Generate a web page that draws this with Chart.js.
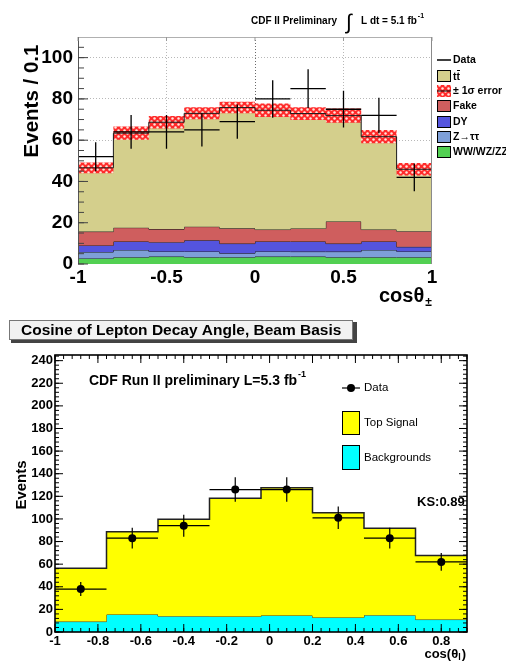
<!DOCTYPE html>
<html>
<head>
<meta charset="utf-8">
<script src="https://cdn.jsdelivr.net/npm/chart.js@4.4.1/dist/chart.umd.min.js"></script>
<style>
  html, body { margin: 0; padding: 0; background: #fff; }
  #wrap { position: relative; width: 506px; height: 662px; overflow: hidden; background: #fff; }
  #wrap canvas { position: absolute; left: 0; }
  #c1 { top: 0; }
  #c2 { top: 310px; }
</style>
</head>
<body>
<div id="wrap">
  <canvas id="c1" width="506" height="310"></canvas>
  <canvas id="c2" width="506" height="352"></canvas>
</div>
<script>
// ---------- Upper panel: cos(theta+) in dilepton events, CDF II, 5.1 fb^-1 ----------
const topEdges   = [-1, -0.8, -0.6, -0.4, -0.2, 0, 0.2, 0.4, 0.6, 0.8, 1];
const topXTicks  = [-1, -0.5, 0, 0.5, 1];
const topYTicks  = [0, 20, 40, 60, 80, 100];
const dibosonYield  = [2.7, 3.3, 3.6, 3.3, 3.3, 3.6, 3.6, 3.3, 3.3, 3.3];
const ztautauYield  = [3.1, 3.5, 2.5, 2.8, 1.9, 2.5, 2.4, 2.7, 3.5, 2.8];
const drellYanYield = [3.2, 4.1, 4.5, 5.4, 4.7, 4.8, 4.9, 3.9, 4.1, 2.2];
const fakeYield     = [6.7, 6.7, 6.3, 6.6, 7.4, 5.8, 6.3, 10.7, 5.8, 7.6];
const ttbarYield    = [30.9, 45.8, 51.8, 54.9, 58.5, 57.8, 55.7, 51.3, 45.0, 30.0];
const predError     = [2.6, 3.2, 3.0, 2.9, 2.8, 3.3, 3.1, 3.5, 3.2, 3.0];
const topData       = [52, 64, 64, 65, 69, 80, 85, 75, 72, 42];
const topDataErr    = [7.0, 8.2, 8.2, 8.1, 8.3, 9.1, 9.4, 8.9, 8.6, 6.7];

// ---------- Lower panel: cosine of lepton decay angle, beam basis, 5.3 fb^-1 ----------
const botEdges   = [-1, -0.76, -0.52, -0.28, -0.04, 0.2, 0.44, 0.68, 0.92];
const botXTicks  = [-1, -0.8, -0.6, -0.4, -0.2, 0, 0.2, 0.4, 0.6, 0.8];
const botYTicks  = [0, 20, 40, 60, 80, 100, 120, 140, 160, 180, 200, 220, 240];
const backgroundYield = [9.2, 15.5, 14.0, 13.7, 14.6, 12.8, 14.9, 11.0];
const signalYield     = [47.1, 73.2, 85.8, 104.5, 112.9, 92.6, 76.8, 56.6];
const botData         = [38, 83, 94, 126, 126, 101, 83, 62];
const botDataErr      = [6.2, 9.1, 9.7, 10.8, 10.8, 10.0, 9.1, 7.9];

const FONT = "'Liberation Sans', Arial, Helvetica, sans-serif";
const font = (size, weight) => `${weight || 'normal'} ${size}px ${FONT}`;
Chart.defaults.font.family = FONT;

// histogram helpers: one point per bin edge, the value holds until the next edge
function stepPoints(edges, vals) {
  return edges.map((x, i) => ({ x, y: vals[Math.min(i, vals.length - 1)] }));
}
function stackUp(layers) {
  let run = layers[0].map(() => 0);
  return layers.map(l => (run = run.map((v, i) => v + l[i])));
}
function fixedTicks(values) {
  return scale => { scale.ticks = values.map(v => ({ value: v })); };
}
function drawCrosses(chart, edges, vals, errs, lw) {
  const { ctx, scales: { x, y } } = chart;
  ctx.save();
  ctx.strokeStyle = '#000';
  ctx.lineWidth = lw;
  vals.forEach((v, i) => {
    const x0 = x.getPixelForValue(edges[i]);
    const x1 = x.getPixelForValue(edges[i + 1]);
    const xc = x.getPixelForValue((edges[i] + edges[i + 1]) / 2);
    const yc = y.getPixelForValue(v);
    ctx.beginPath();
    ctx.moveTo(x0, yc); ctx.lineTo(x1, yc);
    ctx.moveTo(xc, y.getPixelForValue(v - errs[i]));
    ctx.lineTo(xc, y.getPixelForValue(v + errs[i]));
    ctx.stroke();
  });
  ctx.restore();
}
function tickMarks(ctx, scale, values, len, side, area) {
  ctx.beginPath();
  values.forEach(v => {
    const p = scale.getPixelForValue(v);
    if (side === 'left')   { ctx.moveTo(area.left, p);   ctx.lineTo(area.left + len, p); }
    if (side === 'right')  { ctx.moveTo(area.right, p);  ctx.lineTo(area.right - len, p); }
    if (side === 'bottom') { ctx.moveTo(p, area.bottom); ctx.lineTo(p, area.bottom - len); }
    if (side === 'top')    { ctx.moveTo(p, area.top);    ctx.lineTo(p, area.top + len); }
  });
  ctx.stroke();
}
function steps(from, to, step) {
  const out = [];
  for (let k = 0; from + k * step <= to + 1e-9; k++) out.push(+(from + k * step).toFixed(4));
  return out;
}

// red/white checkered fill for the prediction uncertainty
function bandPattern() {
  const c = document.createElement('canvas');
  c.width = 6; c.height = 6;
  const g = c.getContext('2d');
  g.fillStyle = '#ff2a2a';
  g.fillRect(0, 0, 6, 6);
  g.fillStyle = '#ffe6dc';
  [[1.5, 1.5], [4.5, 4.5]].forEach(([px, py]) => {
    g.beginPath(); g.arc(px, py, 1.25, 0, Math.PI * 2); g.fill();
  });
  return g.createPattern(c, 'repeat');
}

// ================= upper chart =================
const topStack = stackUp([dibosonYield, ztautauYield, drellYanYield, fakeYield, ttbarYield]);
const topTotal = topStack[topStack.length - 1];
const layerColors = ['#52d052', '#7e9fd8', '#5454de', '#cf5e5e', '#d4cf8c'];
const pattern = bandPattern();

const topSets = topStack.map((vals, i) => ({
  data: stepPoints(topEdges, vals),
  stepped: true,
  pointRadius: 0,
  borderWidth: 1,
  borderColor: i === 4 ? 'rgba(0,0,0,0)' : '#1b1b1b',
  backgroundColor: layerColors[i],
  fill: i === 0 ? 'origin' : '-1',
  order: 20 - i
}));
topSets.push({
  data: stepPoints(topEdges, topTotal.map((v, i) => v - predError[i])),
  stepped: true, pointRadius: 0, borderWidth: 1, borderColor: 'rgba(0,0,0,0)',
  fill: false, order: 14
});
topSets.push({
  data: stepPoints(topEdges, topTotal.map((v, i) => v + predError[i])),
  stepped: true, pointRadius: 0, borderWidth: 1, borderColor: 'rgba(0,0,0,0)',
  backgroundColor: pattern, fill: '-1', order: 13
});
topSets.push({
  data: stepPoints(topEdges, topTotal),
  stepped: true, pointRadius: 0, borderWidth: 1, borderColor: '#1b1b1b',
  fill: false, order: 12
});

const topDecor = {
  id: 'topDecor',
  afterDatasetsDraw(chart) {
    drawCrosses(chart, topEdges, topData, topDataErr, 1.3);
  },
  afterDraw(chart) {
    const { ctx, chartArea: a, scales: { x, y } } = chart;
    ctx.save();
    // frame
    ctx.lineWidth = 1;
    ctx.strokeStyle = '#b0b0b0';
    ctx.beginPath(); ctx.moveTo(a.left, a.top + 0.5); ctx.lineTo(a.right, a.top + 0.5); ctx.stroke();
    ctx.strokeStyle = '#8a8a8a';
    ctx.beginPath(); ctx.moveTo(a.right - 0.5, a.top); ctx.lineTo(a.right - 0.5, a.bottom); ctx.stroke();
    ctx.strokeStyle = '#555';
    ctx.beginPath(); ctx.moveTo(a.left + 0.5, a.top); ctx.lineTo(a.left + 0.5, a.bottom); ctx.stroke();
    // ticks
    ctx.strokeStyle = '#444';
    tickMarks(ctx, y, topYTicks, 10, 'left', a);
    tickMarks(ctx, y, steps(0, 105, 5), 6, 'left', a);
    ctx.strokeStyle = '#999';
    tickMarks(ctx, x, topXTicks, 4, 'top', a);

    // title
    ctx.fillStyle = '#000';
    ctx.textBaseline = 'middle';
    ctx.textAlign = 'left';
    ctx.font = font(10, 'bold');
    ctx.fillText('CDF II Preliminary', 251, 21);
    ctx.font = font(21, 'normal');
    ctx.fillText('\u222B', 346, 23);
    ctx.font = font(10, 'bold');
    ctx.fillText('L dt = 5.1 fb', 361, 21);
    const wL = ctx.measureText('L dt = 5.1 fb').width;
    ctx.font = font(7, 'bold');
    ctx.fillText('-1', 361 + wL + 1, 16);

    // y title
    ctx.save();
    ctx.translate(32, 101);
    ctx.rotate(-Math.PI / 2);
    ctx.textAlign = 'center';
    ctx.font = font(20.5, 'bold');
    ctx.fillText('Events / 0.1', 0, 0);
    ctx.restore();

    // x title: cos theta with +- subscript
    ctx.font = font(20, 'bold');
    ctx.textAlign = 'left';
    ctx.fillText('cos\u03B8', 379, 296);
    const wc = ctx.measureText('cos\u03B8').width;
    ctx.font = font(12, 'bold');
    ctx.fillText('\u00B1', 379 + wc + 1, 303);

    // legend
    const bx = 437, bw = 14, tx = 453;
    ctx.font = font(10.5, 'bold');
    ctx.strokeStyle = '#000';
    ctx.lineWidth = 1.5;
    ctx.beginPath(); ctx.moveTo(bx, 60); ctx.lineTo(bx + bw, 60); ctx.stroke();
    ctx.fillText('Data', tx, 60);
    const boxes = [
      [76, layerColors[4]], [91, pattern], [106, layerColors[3]],
      [122, layerColors[2]], [137, layerColors[1]], [152, layerColors[0]]
    ];
    ctx.lineWidth = 1;
    boxes.forEach(([cy, fillStyle]) => {
      ctx.fillStyle = fillStyle;
      ctx.fillRect(bx, cy - 6, bw, 12);
      if (fillStyle !== pattern) ctx.strokeRect(bx + 0.5, cy - 5.5, bw - 1, 11);
    });
    ctx.beginPath(); ctx.moveTo(bx, 91); ctx.lineTo(bx + bw, 91); ctx.stroke();
    ctx.fillStyle = '#000';
    ctx.fillText('tt', tx, 77);
    const wt = ctx.measureText('t').width;
    ctx.beginPath(); ctx.moveTo(tx + wt + 0.5, 70.5); ctx.lineTo(tx + 2 * wt, 70.5); ctx.stroke();
    ctx.fillText('\u00B1 1\u03C3 error', tx, 91);
    ctx.fillText('Fake', tx, 106);
    ctx.fillText('DY', tx, 122);
    ctx.fillText('Z\u2192\u03C4\u03C4', tx, 137);
    ctx.fillText('WW/WZ/ZZ', tx, 152);
    ctx.restore();
  }
};

new Chart(document.getElementById('c1'), {
  type: 'line',
  data: { datasets: topSets },
  options: {
    responsive: false,
    animation: false,
    events: [],
    layout: { padding: { left: 28, right: 74, top: 37, bottom: 16 } },
    scales: {
      x: {
        type: 'linear', min: -1, max: 1,
        afterBuildTicks: fixedTicks(topXTicks),
        afterFit: s => { s.height = 30; },
        border: { display: false, dash: [1, 2] },
        grid: {
          drawTicks: false,
          color: c => (c.tick && (c.tick.value === -1 || c.tick.value === 1)) ? 'rgba(0,0,0,0)'
                     : (c.tick && c.tick.value === 0 ? '#6a6a6a' : '#b8b8b8')
        },
        ticks: {
          padding: 2, color: '#000', maxRotation: 0,
          font: { size: 19, weight: 'bold' },
          callback: v => String(+Number(v).toFixed(2))
        }
      },
      y: {
        min: 0, max: 110,
        afterBuildTicks: fixedTicks(topYTicks),
        afterFit: s => { s.width = 50; },
        border: { display: false, dash: [1, 2] },
        grid: {
          drawTicks: false,
          color: c => (c.tick && c.tick.value === 0) ? 'rgba(0,0,0,0)' : '#b8b8b8'
        },
        ticks: {
          padding: 5, color: '#000',
          font: { size: 19, weight: 'bold' },
          callback: v => String(v)
        }
      }
    },
    plugins: { legend: { display: false }, tooltip: { enabled: false } }
  },
  plugins: [topDecor]
});

// ================= lower chart =================
const botStack = stackUp([backgroundYield, signalYield]);
const botCenters = botData.map((v, i) => (botEdges[i] + botEdges[i + 1]) / 2);

const botDecor = {
  id: 'botDecor',
  afterDatasetsDraw(chart) {
    drawCrosses(chart, botEdges, botData, botDataErr, 1.2);
  },
  afterDraw(chart) {
    const { ctx, chartArea: a, scales: { x, y } } = chart;
    ctx.save();
    // ticks on all four sides
    ctx.strokeStyle = '#000';
    ctx.lineWidth = 1;
    tickMarks(ctx, y, botYTicks, 8, 'left', a);
    tickMarks(ctx, y, botYTicks, 8, 'right', a);
    tickMarks(ctx, y, steps(0, 244, 4), 4, 'left', a);
    tickMarks(ctx, y, steps(0, 244, 4), 4, 'right', a);
    tickMarks(ctx, x, botXTicks, 8, 'bottom', a);
    tickMarks(ctx, x, botXTicks, 8, 'top', a);
    tickMarks(ctx, x, steps(-1, 0.92, 0.04), 4, 'bottom', a);
    tickMarks(ctx, x, steps(-1, 0.92, 0.04), 4, 'top', a);
    // frame
    ctx.lineWidth = 1.6;
    ctx.strokeRect(a.left, a.top, a.right - a.left, a.bottom - a.top);

    // title box
    ctx.fillStyle = '#444';
    ctx.fillRect(11, 12, 346, 21);
    ctx.fillStyle = '#f2f2f2';
    ctx.fillRect(9, 10, 344, 20);
    ctx.lineWidth = 1;
    ctx.strokeStyle = '#777';
    ctx.strokeRect(9.5, 10.5, 343, 19);
    ctx.fillStyle = '#000';
    ctx.textBaseline = 'middle';
    ctx.textAlign = 'left';
    ctx.font = font(15.5, 'bold');
    ctx.fillText('Cosine of Lepton Decay Angle, Beam Basis', 21, 21);

    // run label
    ctx.font = font(14, 'bold');
    ctx.fillText('CDF Run II preliminary L=5.3 fb', 89, 71);
    const wr = ctx.measureText('CDF Run II preliminary L=5.3 fb').width;
    ctx.font = font(9, 'bold');
    ctx.fillText('-1', 89 + wr + 1, 65);

    // legend
    ctx.strokeStyle = '#000';
    ctx.lineWidth = 1.2;
    ctx.beginPath(); ctx.moveTo(342, 78); ctx.lineTo(360, 78); ctx.stroke();
    ctx.beginPath(); ctx.arc(351, 78, 4, 0, Math.PI * 2); ctx.fill();
    ctx.lineWidth = 1;
    ctx.fillStyle = '#ffff00';
    ctx.fillRect(342, 101, 18, 24);
    ctx.strokeRect(342.5, 101.5, 17, 23);
    ctx.fillStyle = '#00ffff';
    ctx.fillRect(342, 135, 18, 25);
    ctx.strokeRect(342.5, 135.5, 17, 24);
    ctx.fillStyle = '#000';
    ctx.font = font(11.5, 'normal');
    ctx.fillText('Data', 364, 78);
    ctx.fillText('Top Signal', 364, 113);
    ctx.fillText('Backgrounds', 364, 148);

    ctx.font = font(13, 'bold');
    ctx.fillText('KS:0.89', 417, 192);

    // y title
    ctx.save();
    ctx.translate(22, 175);
    ctx.rotate(-Math.PI / 2);
    ctx.textAlign = 'center';
    ctx.font = font(15, 'bold');
    ctx.fillText('Events', 0, 0);
    ctx.restore();

    // x title: cos(theta_l), right aligned to the frame
    ctx.font = font(13, 'bold');
    const p1 = 'cos(\u03B8', p3 = ')';
    const w1 = ctx.measureText(p1).width, w3 = ctx.measureText(p3).width;
    ctx.font = font(9, 'bold');
    const w2 = ctx.measureText('l').width;
    const x0 = 466 - (w1 + w2 + w3 + 1);
    ctx.font = font(13, 'bold');
    ctx.fillText(p1, x0, 344);
    ctx.font = font(9, 'bold');
    ctx.fillText('l', x0 + w1, 348);
    ctx.font = font(13, 'bold');
    ctx.fillText(p3, x0 + w1 + w2 + 1, 344);
    ctx.restore();
  }
};

new Chart(document.getElementById('c2'), {
  type: 'line',
  data: {
    datasets: [
      {
        data: stepPoints(botEdges, botStack[0]),
        stepped: true, pointRadius: 0, borderWidth: 1, borderColor: '#333',
        backgroundColor: '#00ffff', fill: 'origin', order: 10
      },
      {
        data: stepPoints(botEdges, botStack[1]),
        stepped: true, pointRadius: 0, borderWidth: 1.5, borderColor: '#222',
        backgroundColor: '#ffff00', fill: '-1', order: 9
      },
      {
        data: botData.map((v, i) => ({ x: botCenters[i], y: v })),
        showLine: false, fill: false, pointRadius: 4,
        pointBackgroundColor: '#000', pointBorderColor: '#000', pointBorderWidth: 0,
        order: 1
      }
    ]
  },
  options: {
    responsive: false,
    animation: false,
    events: [],
    layout: { padding: { left: 15, right: 39, top: 45, bottom: 5 } },
    scales: {
      x: {
        type: 'linear', min: -1, max: 0.92,
        afterBuildTicks: fixedTicks(botXTicks),
        afterFit: s => { s.height = 25; },
        border: { display: false },
        grid: { display: false, drawTicks: false },
        ticks: {
          padding: 1.5, color: '#000', maxRotation: 0, autoSkip: false,
          font: { size: 13, weight: 'bold' },
          callback: v => String(+Number(v).toFixed(2))
        }
      },
      y: {
        min: 0, max: 245,
        afterBuildTicks: fixedTicks(botYTicks),
        afterFit: s => { s.width = 40; },
        border: { display: false },
        grid: { display: false, drawTicks: false },
        ticks: {
          padding: 2, color: '#000', autoSkip: false,
          font: { size: 13, weight: 'bold' },
          callback: v => String(v)
        }
      }
    },
    plugins: { legend: { display: false }, tooltip: { enabled: false } }
  },
  plugins: [botDecor]
});
</script>
</body>
</html>
